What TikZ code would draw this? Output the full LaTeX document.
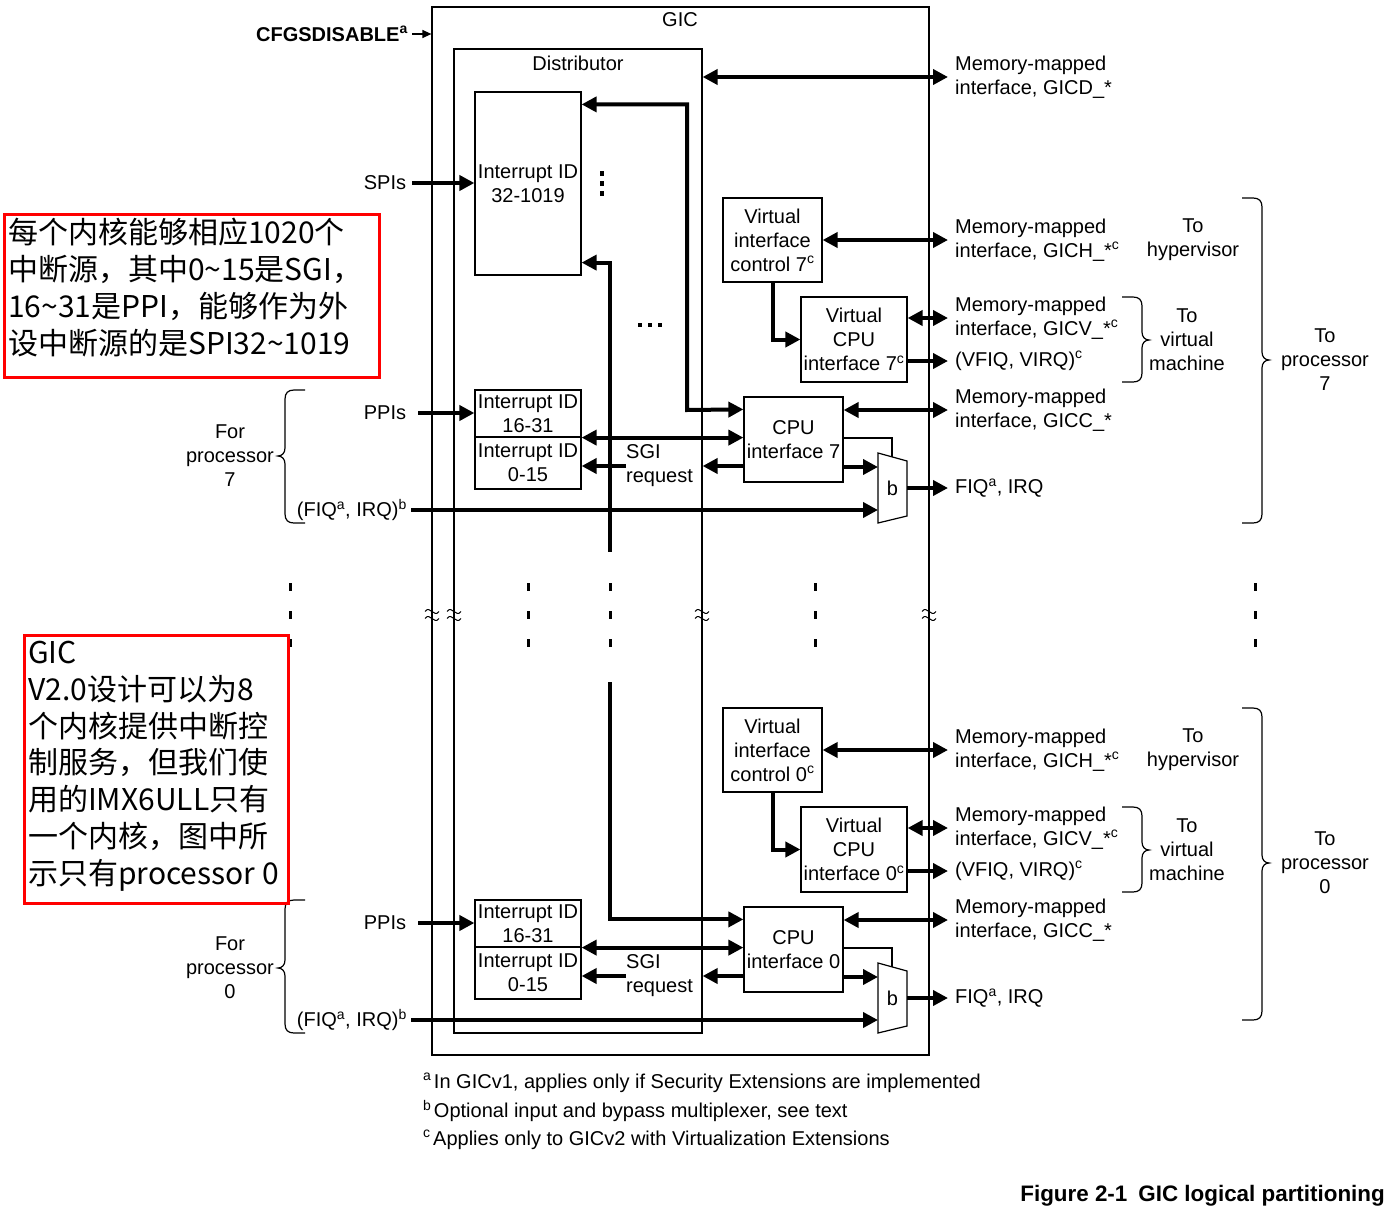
\documentclass[tikz,border=0pt]{standalone}
\usepackage{fontspec}
\setmainfont{Liberation Sans}
\newfontfamily\cjk{Noto Sans CJK SC}
\usetikzlibrary{arrows.meta}
\newcommand\bracL[4]{\draw[thn] (#1+20,#2) -- (#1+9,#2) .. controls (#1+3,#2) and (#1,#2+3) .. (#1,#2+9) -- (#1,#4-8) .. controls (#1,#4-3) and (#1-3,#4) .. (#1-7,#4) .. controls (#1-3,#4) and (#1,#4+3) .. (#1,#4+8) -- (#1,#3-9) .. controls (#1,#3-3) and (#1+3,#3) .. (#1+9,#3) -- (#1+20,#3);}
\newcommand\bracR[4]{\draw[thn] (#1-20,#2) -- (#1-9,#2) .. controls (#1-3,#2) and (#1,#2+3) .. (#1,#2+9) -- (#1,#4-8) .. controls (#1,#4-3) and (#1+3,#4) .. (#1+7,#4) .. controls (#1+3,#4) and (#1,#4+3) .. (#1,#4+8) -- (#1,#3-9) .. controls (#1,#3-3) and (#1-3,#3) .. (#1-9,#3) -- (#1-20,#3);}
\begin{document}
\begin{tikzpicture}[x=1pt,y=-1pt,
  font=\fontsize{20}{24}\selectfont,
  box/.style={draw, line width=1.2pt, inner sep=0pt, align=center, font=\fontsize{20}{24}\selectfont},
  thk/.style={line width=4pt},
  thn/.style={line width=1.2pt},
  >={Triangle[length=15pt,width=15pt]},
  lbl/.style={align=center, inner sep=0pt, font=\fontsize{20}{24}\selectfont},
  rlbl/.style={anchor=west, align=left, inner xsep=7pt, inner ysep=0pt, font=\fontsize{20}{24}\selectfont},
  redbox/.style={draw=red, line width=3pt, inner sep=0pt, anchor=north west},
  cjktext/.style={anchor=north west, inner sep=0pt, align=left, font=\cjk\fontsize{30}{36.8}\selectfont},
]
\fill[white] (0,0) rectangle (1395,1220);
\useasboundingbox (0,0) rectangle (1395,1220);

% main boxes
\node[box, minimum width=497pt, minimum height=1048pt] (gic) at (680.5,531) {};
\node[lbl] (gicl) at (680,20) {GIC};
\node[box, minimum width=248pt, minimum height=984pt] (dist) at (578,541) {};
\node[lbl] (distl) at (578,63) {Distributor};
\node[box, minimum width=106pt, minimum height=183pt] (spi) at (528,183.5) {Interrupt ID\\32-1019};

\node[lbl, anchor=east, inner xsep=4pt, font=\bfseries\fontsize{20}{24}\selectfont] (cfg) at (412,34) {CFGSDISABLE\textsuperscript{a}};
\draw[thn, -{Triangle[length=9pt,width=8pt]}] (cfg.east) -- (cfg.east -| gic.west);

\node[lbl, inner xsep=6pt] (spil) at (385,183) {SPIs};
\draw[thk,->] (spil.east) -- (spi.west |- spil.east);

\node[rlbl] (gicd) at (948,77) {Memory-mapped\\interface, GICD\_*};
\draw[thk,<->] (dist.east |- gicd.west) -- (gicd.west);

\foreach \o/\k/\bb/\tp/\lt in {0/7/523/360/456,510/0/1020/863/968}{
  \node[box, minimum width=106pt, minimum height=47pt] (ppi\k) at (528,413.5+\o) {Interrupt ID\\16-31};
  \node[box, minimum width=106pt, minimum height=52pt] (sgi\k) at (528,463+\o) {Interrupt ID\\0-15};
  \node[box, minimum width=99pt, minimum height=85pt] (cpu\k) at (793.5,439.5+\o) {CPU\\interface \k};
  \node[box, minimum width=99pt, minimum height=84pt] (vic\k) at (772.5,240+\o) {Virtual\\interface\\control \k\textsuperscript{c}};
  \node[box, minimum width=106pt, minimum height=85pt] (vcpu\k) at (854,339.5+\o) {Virtual\\CPU\\interface \k\textsuperscript{c}};
  % multiplexer
  \draw[thn] (878,453+\o) -- (907,461+\o) -- (907,516+\o) -- (878,523+\o) -- cycle;
  \node[lbl] (mux\k) at (892.5,488+\o) {b};
  \coordinate (mia\k) at (878,467+\o);
  \coordinate (mib\k) at (878,510+\o);
  \coordinate (mo\k) at (907,488+\o);
  \coordinate (ms\k) at (892,457+\o);
  \coordinate (sc\k) at (892,438+\o);
  % labels
  \node[lbl, inner xsep=12pt] (ppil\k) at (385,413+\o) {PPIs};
  \node[lbl, anchor=east, inner xsep=4pt] (fiql\k) at (411,510+\o) {(FIQ\textsuperscript{a}, IRQ)\textsuperscript{b}};
  \node[lbl, anchor=west, align=left] (sgil\k) at (626,466+\o) {SGI\\request};
  \node[rlbl] (gich\k) at (948,240+\o) {Memory-mapped\\interface, GICH\_*\textsuperscript{c}};
  \node[rlbl] (gicv\k) at (948,318+\o) {Memory-mapped\\interface, GICV\_*\textsuperscript{c}};
  \node[rlbl] (vfiq\k) at (948,361+\o) {(VFIQ, VIRQ)\textsuperscript{c}};
  \node[rlbl] (gicc\k) at (948,410+\o) {Memory-mapped\\interface, GICC\_*};
  \node[rlbl] (fiqo\k) at (948,488+\o) {FIQ\textsuperscript{a}, IRQ};
  \node[lbl] (hyp\k) at (1193,240+\o) {To\\hypervisor};
  \node[lbl] (vm\k) at (1187,340+\o) {To\\virtual\\machine};
  \node[lbl] (top\k) at (1325,\tp) {To\\processor\\\k};
  \node[lbl] (forp\k) at (230,\lt) {For\\processor\\\k};
  % connectors
  \draw[thk,->] (ppil\k.east) -- (ppi\k.west |- ppil\k.east);
  \draw[thk,->] (fiql\k.east) -- (mib\k);
  \draw[thk,<->] (ppi\k.south east) -- (cpu\k.west |- ppi\k.south east);
  \draw[thk,->] (sgil\k.west) -- (sgi\k.east |- sgil\k.west);
  \draw[thk,->] (cpu\k.west |- sgil\k.west) -- (dist.east |- sgil\k.west);
  \draw[thk,->] (cpu\k.east |- mia\k) -- (mia\k);
  \draw[thn] (cpu\k.east |- sc\k) -- (sc\k) -- (ms\k);
  \draw[thk,->] (mo\k) -- (fiqo\k.west);
  \draw[thk,<->] (vic\k.east) -- (gich\k.west);
  \draw[thk,->] (vic\k.south) |- (vcpu\k.west);
  \draw[thk,<->] (vcpu\k.east |- gicv\k.west) -- (gicv\k.west);
  \draw[thk,->] (vcpu\k.east |- vfiq\k.west) -- (vfiq\k.west);
  \draw[thk,<->] (cpu\k.east |- gicc\k.west) -- (gicc\k.west);
  % braces
  \bracL{285}{390+\o}{523+\o}{\lt}
  \bracR{1142}{297+\o}{382+\o}{340+\o}
  \bracR{1262}{198+\o}{\bb}{\tp}
}

% distributor internal routes
\coordinate (kk) at (687,410);
\draw[thk,<->] ([yshift=-13pt]spi.north east) -| (kk) -- ([yshift=-13pt]cpu7.north west);
\coordinate (va) at (610,552);
\draw[thk,<-] ([yshift=13pt]spi.south east) -| (va);
\coordinate (vb) at (610,682);
\draw[thk,->] (vb) |- ([yshift=-13pt]cpu0.north west);

% dots
\foreach \y in {171,181,191} \fill (600,\y) rectangle (604,\y+5);
\foreach \x in {638,648,658} \fill (\x,323) rectangle (\x+4,327);
\foreach \x in {290,528,610,815,1255}
  \foreach \y in {587,615,643} \fill (\x-1.5,\y-4) rectangle (\x+1.5,\y+4);

% break marks
\foreach \x in {432,454,702,929}
  \foreach \d in {-3.5,3.5}
    \draw[line width=1pt] (\x-7,615+\d) .. controls (\x-2,608+\d) and (\x+2,622+\d) .. (\x+7,615+\d);

% footnotes
\node[lbl, anchor=west] (fna) at (423,1083) {\textsuperscript{a}\hspace{2.5pt}In GICv1, applies only if Security Extensions are implemented};
\node[lbl, anchor=west] (fnb) at (423,1111) {\textsuperscript{b}\hspace{2.5pt}Optional input and bypass multiplexer, see text};
\node[lbl, anchor=west] (fnc) at (423,1140) {\textsuperscript{c}\hspace{2.5pt}Applies only to GICv2 with Virtualization Extensions};
\node[lbl, anchor=east, font=\bfseries\fontsize{22.4}{26}\selectfont] (cap) at (1385,1196) {Figure 2-1\hspace{11pt}GIC logical partitioning};

% red notes
\node[redbox, minimum width=375pt, minimum height=163pt] (note1) at (3,213) {};
\node[cjktext, font=\cjk\fontsize{30}{37}\selectfont] (note1t) at (8,218) {每个内核能够相应1020个\\中断源，其中0\textasciitilde 15是SGI，\\16\textasciitilde 31是PPI，能够作为外\\设中断源的是SPI32\textasciitilde 1019};
\node[redbox, minimum width=264pt, minimum height=268pt] (note2) at (23,634) {};
\node[cjktext] (note2t) at (28,641) {GIC\\V2.0设计可以为8\\个内核提供中断控\\制服务，但我们使\\用的IMX6ULL只有\\一个内核，图中所\\示只有processor 0};
\end{tikzpicture}
\end{document}
